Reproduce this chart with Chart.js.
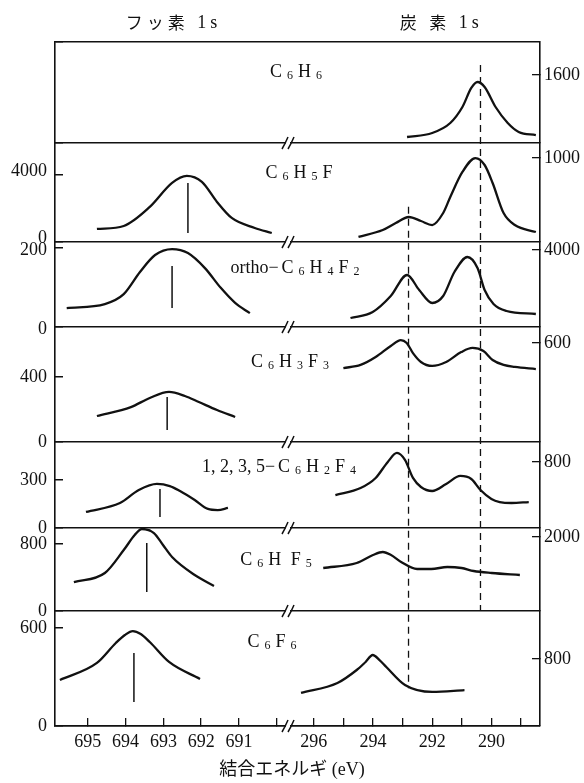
<!DOCTYPE html>
<html>
<head>
<meta charset="utf-8">
<script src="https://cdn.jsdelivr.net/npm/chart.js@4.4.0/dist/chart.umd.min.js"></script>
<style>
  html, body { margin: 0; padding: 0; background: #fff; }
</style>
</head>
<body>
<canvas id="xps" width="584" height="783"></canvas>
<script>
// panels top to bottom; "_d" marks a subscript digit
const compounds = ['C_6H_6', 'C_6H_5F', 'ortho−C_6H_4F_2', 'C_6H_3F_3', '1, 2, 3, 5−C_6H_2F_4', 'C_6H F_5', 'C_6F_6'];

// binding energy axes (eV), two segments with a break
const xFRange = [689.70, 695.87];
const xCRange = [288.36, 296.87];
const xFTicks = [695, 694, 693, 692, 691, 690];
const xFLabels = [695, 694, 693, 692, 691];
const xCTicks = [296, 295, 294, 293, 292, 291, 290, 289];
const xCLabels = [296, 294, 292, 290];

// intensity axes per panel (left: F 1s, right: C 1s)
const leftMax = [1000, 5900, 215, 708, 537, 991, 704];
const rightMax = [2376, 1179, 4415, 697, 1043, 2243, 1372];
const leftTicks = [[], [4000], [200], [400], [300], [800], [600]];
const rightTicks = [[1600], [1000], [4000], [600], [800], [2000], [800]];

// F 1s spectra
const f_C6H5F_ev = [694.76, 694.05, 693.36, 692.77, 692.38, 691.98, 691.58, 691.19, 690.58, 690.13];
const f_C6H5F_ct = [776, 955, 2090, 3522, 3940, 3582, 2388, 1433, 836, 537];
const f_C6H4F2_ev = [695.56, 694.55, 694.05, 693.62, 693.22, 692.77, 692.35, 691.9, 691.48, 691.1, 690.71];
const f_C6H4F2_ct = [48, 58, 83, 139, 182, 197, 187, 149, 99, 61, 35];
const f_C6H3F3_ev = [694.76, 693.86, 693.36, 692.85, 692.43, 692.06, 691.58, 691.1];
const f_C6H3F3_ct = [160, 215, 271, 308, 283, 246, 197, 154];
const f_C6H2F4_ev = [695.05, 694.15, 693.65, 693.17, 692.83, 692.56, 692.17, 691.82, 691.56, 691.29];
const f_C6H2F4_ct = [100, 156, 237, 275, 262, 231, 175, 119, 112, 125];
const f_C6HF5_ev = [695.37, 694.55, 694.05, 693.76, 693.57, 693.25, 693.01, 692.77, 692.17, 691.66];
const f_C6HF5_ct = [346, 454, 728, 907, 979, 931, 788, 645, 430, 299];
const f_C6F6_ev = [695.74, 694.76, 694.26, 694.02, 693.81, 693.6, 693.36, 692.85, 692.03];
const f_C6F6_ct = [282, 386, 508, 557, 581, 563, 514, 392, 288];

// F 1s peak markers (eV, low and high intensity)
const fMarkEv = [null, 692.35, 692.77, 692.9, 693.09, 693.44, 693.78];
const fMarkLo = [null, 537, 48, 74, 69, 227, 147];
const fMarkHi = [null, 3522, 154, 277, 244, 812, 447];

// C 1s spectra
const c_C6H6_ev = [292.85, 292.0, 291.39, 290.98, 290.68, 290.47, 290.23, 289.86, 289.45, 289.08, 288.5];
const c_C6H6_ct = [141, 235, 470, 847, 1294, 1435, 1317, 847, 470, 259, 188];
const c_C6H5F_ev = [294.49, 293.67, 293.23, 292.79, 292.38, 292.0, 291.63, 291.39, 290.98, 290.54, 290.23, 289.96, 289.59, 289.21, 288.5];
const c_C6H5F_ct = [60, 143, 226, 298, 250, 202, 345, 536, 834, 1000, 917, 703, 345, 202, 119];
const c_C6H4F2_ev = [294.76, 294.01, 293.4, 292.85, 292.44, 292.0, 291.63, 291.25, 290.81, 290.47, 290.23, 289.93, 289.49, 288.5];
const c_C6H4F2_ct = [467, 779, 1610, 2701, 1922, 1247, 1610, 2857, 3636, 3064, 1922, 1195, 831, 675];
const c_C6H3F3_ev = [295.0, 294.42, 293.91, 293.4, 293.06, 292.86, 292.65, 292.38, 292.0, 291.53, 291.02, 290.64, 290.27, 289.96, 289.59, 289.21, 288.5];
const c_C6H3F3_ct = [448, 467, 515, 582, 618, 600, 539, 485, 461, 485, 545, 570, 551, 497, 467, 455, 442];
const c_C6H2F4_ev = [295.27, 294.42, 293.91, 293.5, 293.19, 292.92, 292.65, 292.38, 292.0, 291.53, 291.05, 290.68, 290.37, 290.0, 289.72, 289.32, 288.74];
const c_C6H2F4_ct = [400, 485, 607, 801, 910, 825, 607, 497, 449, 534, 631, 594, 461, 352, 315, 303, 315];
const c_C6HF5_ev = [295.68, 294.55, 294.0, 293.67, 293.39, 293.05, 292.51, 292.03, 291.49, 291.01, 290.6, 289.99, 289.04];
const c_C6HF5_ct = [1162, 1297, 1513, 1594, 1513, 1324, 1135, 1135, 1189, 1162, 1081, 1027, 973];
const c_C6F6_ev = [296.43, 295.2, 294.55, 294.25, 294.01, 293.78, 293.55, 292.92, 292.0, 290.91];
const c_C6F6_ct = [394, 513, 668, 764, 847, 787, 704, 489, 406, 429];

// dashed reference lines in the C 1s region: eV, [axis, value] at top and bottom
const refEv = [292.8, 290.37];
const refTop = [['yC1', 420], ['yC0', 1835]];
const refBottom = [['yC6', 450], ['yC5', 0]];

const fSpectra = [null, [f_C6H5F_ev, f_C6H5F_ct], [f_C6H4F2_ev, f_C6H4F2_ct], [f_C6H3F3_ev, f_C6H3F3_ct],
  [f_C6H2F4_ev, f_C6H2F4_ct], [f_C6HF5_ev, f_C6HF5_ct], [f_C6F6_ev, f_C6F6_ct]];
const cSpectra = [[c_C6H6_ev, c_C6H6_ct], [c_C6H5F_ev, c_C6H5F_ct], [c_C6H4F2_ev, c_C6H4F2_ct], [c_C6H3F3_ev, c_C6H3F3_ct],
  [c_C6H2F4_ev, c_C6H2F4_ct], [c_C6HF5_ev, c_C6HF5_ct], [c_C6F6_ev, c_C6F6_ct]];

const ink = '#111';
const panelPx = [101, 99, 85, 115, 86, 83, 115];
const leftLabelShift = [0, -4, 2, 0, 0, 0, 0];
const tickFont = { family: 'Liberation Serif', size: 18 };
const pts = (xs, ys) => xs.map((x, k) => ({ x: x, y: ys[k] }));

const datasets = [];
cSpectra.forEach((s, i) => {
  datasets.push({ data: pts(s[0], s[1]), xAxisID: 'xC', yAxisID: 'yC' + i,
    borderColor: ink, borderWidth: 2.3, pointRadius: 0, cubicInterpolationMode: 'monotone' });
});
fSpectra.forEach((s, i) => {
  if (!s) return;
  datasets.push({ data: pts(s[0], s[1]), xAxisID: 'xF', yAxisID: 'yF' + i,
    borderColor: ink, borderWidth: 2.3, pointRadius: 0, cubicInterpolationMode: 'monotone' });
  datasets.push({ data: [{ x: fMarkEv[i], y: fMarkLo[i] }, { x: fMarkEv[i], y: fMarkHi[i] }],
    xAxisID: 'xF', yAxisID: 'yF' + i, borderColor: ink, borderWidth: 1.5, pointRadius: 0 });
});

const scales = {
  xF: {
    type: 'linear', position: 'bottom', stack: 'ev', stackWeight: 233, reverse: true,
    min: xFRange[0], max: xFRange[1],
    border: { display: true, color: ink, width: 1.6 },
    grid: { drawOnChartArea: false, tickLength: -8, color: ink, lineWidth: 1.3 },
    ticks: { autoSkip: false, maxRotation: 0, padding: 13, color: ink, font: tickFont,
      callback: v => xFLabels.includes(v) ? String(v) : '' },
    afterBuildTicks: s => { s.ticks = xFTicks.map(v => ({ value: v })); },
    afterFit: s => { s.height = 32; }
  },
  xC: {
    type: 'linear', position: 'bottom', stack: 'ev', stackWeight: 252, reverse: true,
    min: xCRange[0], max: xCRange[1],
    border: { display: true, color: ink, width: 1.6 },
    grid: { drawOnChartArea: false, tickLength: -8, color: ink, lineWidth: 1.3 },
    ticks: { autoSkip: false, maxRotation: 0, padding: 13, color: ink, font: tickFont,
      callback: v => xCLabels.includes(v) ? String(v) : '' },
    afterBuildTicks: s => { s.ticks = xCTicks.map(v => ({ value: v })); },
    afterFit: s => { s.height = 32; }
  }
};

compounds.forEach((c, i) => {
  scales['yF' + i] = {
    type: 'linear', position: 'left', stack: 'left', stackWeight: panelPx[i], weight: 10 - i,
    min: 0, max: leftMax[i],
    border: { display: true, color: ink, width: 1.6 },
    grid: {
      tickLength: -8, lineWidth: 1.5, tickColor: ink,
      color: ctx => (ctx.tick.value === 0 || (i === 0 && ctx.tick.value === leftMax[0])) ? ink : 'rgba(0,0,0,0)'
    },
    ticks: { autoSkip: false, padding: 16, color: ink, font: tickFont, labelOffset: leftLabelShift[i],
      callback: v => i === 0 ? '' : String(v) },
    afterBuildTicks: s => {
      const vals = i === 0 ? [0, leftMax[0]] : [0].concat(leftTicks[i]);
      s.ticks = vals.map(v => ({ value: v }));
    },
    afterFit: s => { s.width = 55; }
  };
  scales['yC' + i] = {
    type: 'linear', position: 'right', stack: 'right', stackWeight: panelPx[i], weight: i,
    min: 0, max: rightMax[i],
    border: { display: true, color: ink, width: 1.6 },
    grid: { drawOnChartArea: false, tickLength: -8, color: ink, lineWidth: 1.3 },
    ticks: { autoSkip: false, padding: 12, color: ink, font: tickFont, callback: v => String(v) },
    afterBuildTicks: s => { s.ticks = rightTicks[i].map(v => ({ value: v })); },
    afterFit: s => { s.width = 44; }
  };
});

const MAIN_FONT = '18px "Liberation Serif"';
const SUB_FONT = '12px "Liberation Serif"';
const CJK_FONT = '17px "Noto Sans CJK JP"';

function formulaTokens(str) {
  const out = [];
  for (let k = 0; k < str.length; k++) {
    const ch = str[k];
    if (ch === '_') { out.push({ t: str[++k], font: SUB_FONT, dy: 4, gap: 5 }); continue; }
    const gap = /[A-Z]/.test(ch) ? 5 : (ch === '−' ? 3 : 0);
    out.push({ t: ch, font: MAIN_FONT, dy: 0, gap: gap });
  }
  return out;
}
function headerTokens(str) {
  return Array.from(str).map(ch => ({ t: ch, font: /[\u3000-\u9fff]/.test(ch) ? CJK_FONT : MAIN_FONT, dy: 0, gap: 4 }));
}
function drawTokens(ctx, tokens, cx, cy) {
  let w = 0;
  tokens.forEach((tk, k) => {
    ctx.font = tk.font;
    tk.w = ctx.measureText(tk.t).width;
    w += tk.w + (k < tokens.length - 1 ? tk.gap : 0);
  });
  let x = cx - w / 2;
  ctx.textAlign = 'left';
  ctx.textBaseline = 'middle';
  tokens.forEach(tk => { ctx.font = tk.font; ctx.fillText(tk.t, x, cy + tk.dy); x += tk.w + tk.gap; });
}

// label placement: offset from the axis break (px), offset below panel top (px)
const labelDx = [8, 11, 7, 2, -9, -12, -16];
const labelDy = [30, 30, 26, 35, 25, 32, 31];

const decor = {
  id: 'decor',
  beforeDatasetsDraw(chart) {
    const { ctx, scales: sc } = chart;
    ctx.save();
    ctx.strokeStyle = ink;
    ctx.lineWidth = 1.3;
    ctx.setLineDash([7, 5]);
    refEv.forEach((ev, k) => {
      const x = sc.xC.getPixelForValue(ev);
      ctx.beginPath();
      ctx.moveTo(x, sc[refTop[k][0]].getPixelForValue(refTop[k][1]));
      ctx.lineTo(x, sc[refBottom[k][0]].getPixelForValue(refBottom[k][1]));
      ctx.stroke();
    });
    ctx.restore();
  },
  afterDraw(chart) {
    const { ctx, scales: sc } = chart;
    const xb = sc.xF.right;
    ctx.save();
    ctx.fillStyle = ink;
    // column headers
    drawTokens(ctx, headerTokens('フッ素 1s'), (sc.xF.left + sc.xF.right) / 2, 23);
    drawTokens(ctx, headerTokens('炭 素 1s'), sc.xC.left + 0.6 * sc.xC.width, 23);
    // compound names
    compounds.forEach((c, i) => {
      drawTokens(ctx, formulaTokens(c), xb + labelDx[i], sc['yF' + i].top + labelDy[i]);
    });
    // axis break marks on every panel baseline
    ctx.strokeStyle = ink;
    ctx.lineWidth = 1.5;
    compounds.forEach((c, i) => {
      const y = sc['yF' + i].bottom;
      ctx.fillStyle = '#fff';
      ctx.fillRect(xb - 2, y - 2, 4, 4);
      [-3, 3].forEach(d => {
        ctx.beginPath();
        ctx.moveTo(xb + d - 3, y + 6);
        ctx.quadraticCurveTo(xb + d, y + 1, xb + d + 3, y - 6);
        ctx.stroke();
      });
    });
    ctx.restore();
  }
};

new Chart(document.getElementById('xps'), {
  type: 'line',
  data: { datasets: datasets },
  options: {
    responsive: false,
    animation: false,
    layout: { padding: { top: 42, left: 0, right: 0, bottom: 0 } },
    plugins: {
      legend: { display: false },
      tooltip: { enabled: false },
      title: {
        display: true, position: 'bottom', text: '結合エネルギ (eV)', color: ink,
        font: { family: '"Liberation Serif", "Noto Sans CJK JP"', size: 18, weight: 'normal' },
        padding: { top: 1, bottom: 2.4 }
      }
    },
    scales: scales
  },
  plugins: [decor]
});
</script>
</body>
</html>
